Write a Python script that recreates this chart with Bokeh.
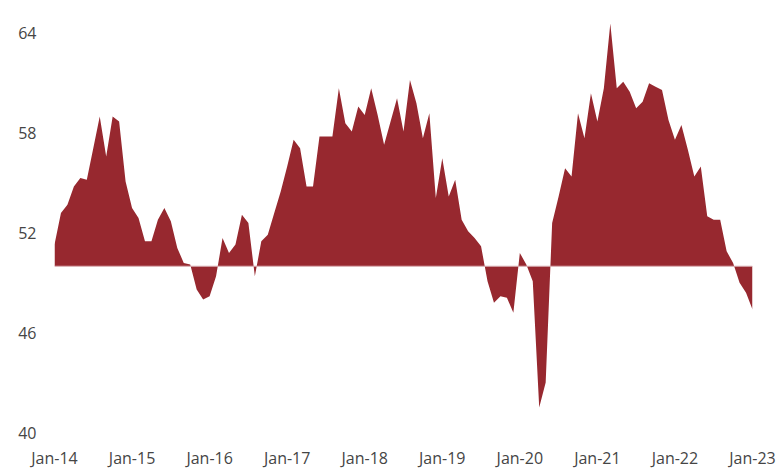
from bokeh.plotting import figure
from bokeh.models import Range1d, FixedTicker
from bokeh.embed import file_html
from bokeh.resources import INLINE

# Monthly index values, Jan-2014 .. Jan-2023
values = [
    51.3, 53.2, 53.7, 54.8, 55.3, 55.2, 57.1, 59.0, 56.6, 59.0, 58.7, 55.1,
    53.5, 52.9, 51.5, 51.5, 52.8, 53.5, 52.7, 51.1, 50.2, 50.1, 48.6, 48.0,
    48.2, 49.4, 51.7, 50.8, 51.3, 53.1, 52.6, 49.4, 51.5, 51.9, 53.2, 54.5,
    56.0, 57.6, 57.1, 54.8, 54.8, 57.8, 57.8, 57.8, 60.7, 58.6, 58.1, 59.6,
    59.1, 60.7, 59.1, 57.3, 58.7, 60.1, 58.1, 61.2, 59.8, 57.7, 59.2, 54.1,
    56.5, 54.2, 55.2, 52.8, 52.1, 51.7, 51.2, 49.1, 47.8, 48.2, 48.1, 47.2,
    50.8, 50.1, 49.1, 41.5, 43.0, 52.6, 54.2, 55.9, 55.4, 59.2, 57.7, 60.4,
    58.7, 60.7, 64.6, 60.7, 61.1, 60.5, 59.5, 59.9, 61.0, 60.8, 60.6, 58.8,
    57.6, 58.5, 57.0, 55.4, 56.0, 53.0, 52.8, 52.8, 50.9, 50.2, 49.0, 48.4,
    47.4,
]
baseline = 50.0
x_tick_labels = ["Jan-14", "Jan-15", "Jan-16", "Jan-17", "Jan-18",
                 "Jan-19", "Jan-20", "Jan-21", "Jan-22", "Jan-23"]
y_ticks = [40, 46, 52, 58, 64]

months = list(range(len(values)))
x_ticks = [12 * i for i in range(len(x_tick_labels))]

p = figure(width=776, height=473, output_backend="svg", toolbar_location=None,
           x_range=Range1d(0, 108), y_range=Range1d(40, 65.02),
           min_border_left=54, min_border_right=24, min_border_top=16,
           min_border_bottom=41)
p.outline_line_color = None
p.xgrid.visible = False
p.ygrid.visible = False
p.background_fill_color = "white"
p.border_fill_color = "white"

p.varea(x=months, y1=[baseline] * len(months), y2=values,
        fill_color="#97282F")
p.line(x=[months[0], months[-1]], y=[baseline, baseline],
       line_color="#d9aeb2", line_width=1)

for ax in (p.xaxis[0], p.yaxis[0]):
    ax.axis_line_color = None
    ax.major_tick_line_color = None
    ax.minor_tick_line_color = None
    ax.major_label_text_font = "Open Sans"
    ax.major_label_text_color = "#454545"
    ax.major_label_text_font_size = "16px"

p.yaxis.ticker = FixedTicker(ticks=y_ticks)
p.yaxis.major_label_standoff = 12
p.xaxis.ticker = FixedTicker(ticks=x_ticks)
p.xaxis.major_label_overrides = {t: l for t, l in zip(x_ticks, x_tick_labels)}
p.xaxis.major_label_standoff = 8

open("out.html", "w").write(file_html(p, INLINE))
